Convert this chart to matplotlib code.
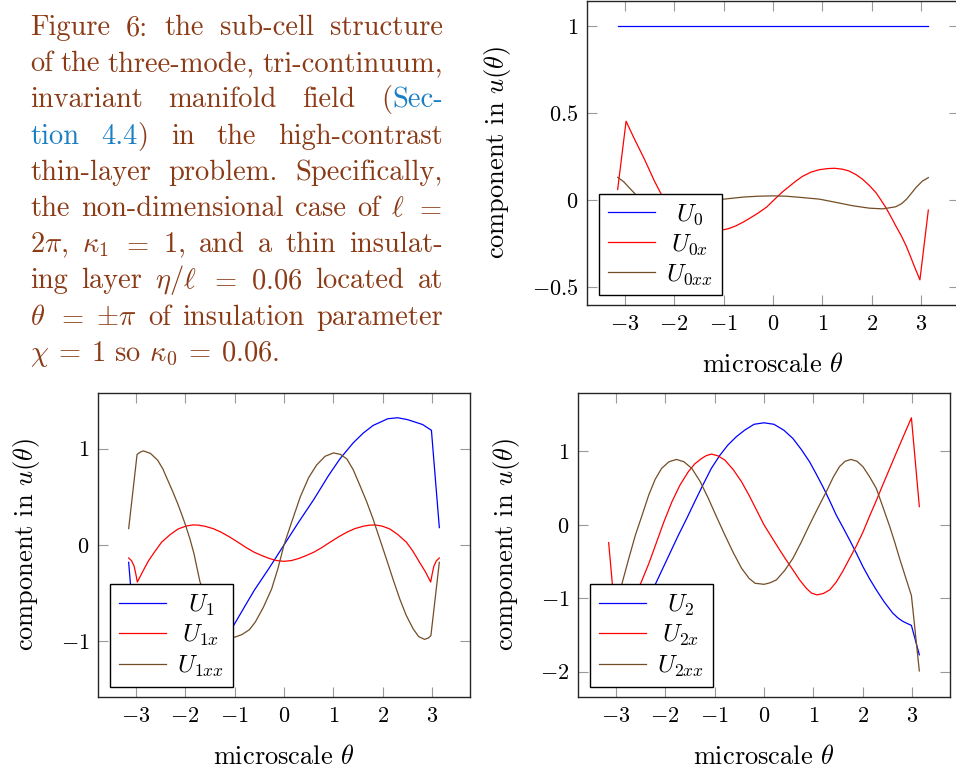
import matplotlib
matplotlib.use('Agg')
import matplotlib.pyplot as plt
from matplotlib.lines import Line2D
from matplotlib.transforms import IdentityTransform

plt.rcParams['font.family'] = 'cmr10'
plt.rcParams['mathtext.fontset'] = 'cm'
plt.rcParams['axes.unicode_minus'] = False
plt.rcParams['axes.formatter.use_mathtext'] = True

# ---------------- data ----------------
x_ticks = [-3, -2, -1, 0, 1, 2, 3]

# mode 0
th_U0 = [-3.14, 3.14]
U0 = [1.0, 1.0]
th_U0x = [-3.14, -2.97, -2.8, -2.6, -2.4, -2.2, -2.0, -1.7, -1.4, -1.2, -1.03, -0.9, -0.75, -0.6,
          -0.47, -0.3, -0.13, 0.08, 0.2, 0.34, 0.47, 0.6, 0.77, 0.94, 1.1, 1.24, 1.4, 1.54, 1.68,
          1.81, 1.95, 2.08, 2.18, 2.28, 2.38, 2.48, 2.59, 2.69, 2.77, 2.85, 2.97, 3.14]
U0x = [0.06, 0.453, 0.35, 0.235, 0.11, 0.0, -0.07, -0.13, -0.17, -0.18, -0.174, -0.166, -0.150,
       -0.128, -0.106, -0.076, -0.042, 0.016, 0.048, 0.08, 0.11, 0.136, 0.16, 0.174, 0.180, 0.182,
       0.177, 0.166, 0.145, 0.119, 0.082, 0.042, 0.0, -0.044, -0.095, -0.149, -0.205, -0.264,
       -0.32, -0.378, -0.461, -0.059]
th_U0xx = [-3.14, -3.02, -2.89, -2.79, -2.69, -2.48, -2.22, -1.95, -1.61, -1.28, -1.0, -0.6,
           -0.3, 0.0, 0.27, 0.6, 0.94, 1.28, 1.61, 1.95, 2.22, 2.48, 2.6, 2.7, 2.79, 2.89, 3.02, 3.14]
U0xx = [0.13, 0.105, 0.065, 0.035, 0.004, -0.038, -0.052, -0.048, -0.034, -0.015, 0.004, 0.016,
        0.021, 0.023, 0.021, 0.013, 0.004, -0.015, -0.034, -0.048, -0.052, -0.040, -0.022, 0.004,
        0.035, 0.071, 0.108, 0.128]
y_ticks_0 = [-0.5, 0, 0.5, 1]

# mode 1
th_U1 = [-3.14, -2.98, -2.8, -2.5, -2.3, -2.1, -1.8, -1.6, -1.4, -1.27, -1.13, -1.02, -0.75,
         -0.6, -0.45, -0.3, -0.15, 0.0, 0.15, 0.3, 0.45, 0.6, 0.75, 0.9, 1.13, 1.27, 1.4, 1.6, 1.8,
         2.1, 2.3, 2.5, 2.8, 2.98, 3.14]
U1 = [-0.18, -1.19, -1.25, -1.30, -1.32, -1.31, -1.24, -1.16, -1.06, -0.98, -0.9, -0.837, -0.60,
      -0.47, -0.355, -0.24, -0.12, 0.0, 0.12, 0.24, 0.355, 0.47, 0.595, 0.72, 0.893, 0.98, 1.06,
      1.16, 1.24, 1.31, 1.32, 1.30, 1.25, 1.19, 0.18]
th_U1x = [-3.14, -3.08, -3.03, -3.0, -2.965, -2.86, -2.74, -2.6, -2.475, -2.3, -2.14, -1.98, -1.84,
          -1.72, -1.6, -1.43, -1.27, -1.1, -0.93, -0.75, -0.6, -0.45, -0.3, -0.15, 0.0, 0.15, 0.3,
          0.45, 0.6, 0.75, 0.93, 1.1, 1.27, 1.43, 1.6, 1.72, 1.84, 1.98, 2.14, 2.3, 2.475, 2.6,
          2.74, 2.86, 2.965, 3.0, 3.03, 3.08, 3.14]
U1x = [-0.135, -0.165, -0.22, -0.29, -0.385, -0.28, -0.165, -0.06, 0.028, 0.108, 0.166, 0.196,
       0.208, 0.205, 0.194, 0.169, 0.132, 0.083, 0.028, -0.032, -0.076, -0.11, -0.14, -0.162,
       -0.17, -0.162, -0.14, -0.11, -0.076, -0.032, 0.028, 0.083, 0.132, 0.169, 0.194, 0.205,
       0.208, 0.196, 0.166, 0.108, 0.028, -0.06, -0.18, -0.28, -0.385, -0.29, -0.22, -0.165,
       -0.135]
th_U1xx = [-3.14, -2.97, -2.9, -2.84, -2.7, -2.555, -2.45, -2.35, -2.25, -2.15, -2.07, -1.99, -1.9,
           -1.82, -1.7, -1.55, -1.4, -1.25, -1.12, -1.0, -0.85, -0.7, -0.58, -0.42, -0.25, -0.12,
           0.0, 0.15, 0.33, 0.5, 0.66, 0.83, 1.0, 1.14, 1.27, 1.4, 1.535, 1.67, 1.8, 1.93, 2.07,
           2.2, 2.34, 2.47, 2.61, 2.72, 2.84, 2.92, 2.97, 3.14]
U1xx = [0.17, 0.94, 0.965, 0.976, 0.95, 0.88, 0.79, 0.672, 0.555, 0.43, 0.32, 0.205, 0.06, -0.09,
        -0.38, -0.6, -0.76, -0.88, -0.945, -0.958, -0.93, -0.88, -0.80, -0.65, -0.457, -0.24,
        0.0, 0.23, 0.5, 0.70, 0.83, 0.92, 0.955, 0.94, 0.893, 0.78, 0.617, 0.45, 0.27, 0.07,
        -0.145, -0.35, -0.56, -0.73, -0.87, -0.95, -0.98, -0.965, -0.94, -0.18]
y_ticks_1 = [-1, 0, 1]

# mode 2
th_U2 = [-3.14, -2.98, -2.81, -2.65, -2.5, -2.35, -2.19, -1.96, -1.73, -1.56, -1.40, -1.23,
         -1.065, -0.9, -0.73, -0.56, -0.39, -0.2, 0.0, 0.2, 0.4, 0.585, 0.75, 0.92, 1.05, 1.19,
         1.33, 1.46, 1.6, 1.73, 1.87, 2.0, 2.13, 2.27, 2.43, 2.6, 2.71, 2.81, 2.9, 2.98, 3.14]
U2 = [-1.77, -1.37, -1.316, -1.22, -1.1, -0.96, -0.80, -0.47, -0.14, 0.09, 0.316, 0.55, 0.769,
      0.94, 1.087, 1.2, 1.29, 1.37, 1.39, 1.37, 1.29, 1.176, 1.03, 0.86, 0.70, 0.52, 0.325,
      0.134, -0.04, -0.205, -0.39, -0.57, -0.73, -0.886, -1.05, -1.2, -1.27, -1.316, -1.345,
      -1.37, -1.77]
th_U2x = [-3.14, -2.98, -2.8, -2.67, -2.485, -2.33, -2.19, -2.03, -1.86, -1.7, -1.53, -1.4, -1.26,
          -1.16, -1.065, -0.93, -0.79, -0.62, -0.455, -0.3, -0.15, 0.0, 0.125, 0.25, 0.42, 0.585,
          0.72, 0.855, 0.96, 1.07, 1.2, 1.33, 1.46, 1.59, 1.72, 1.86, 2.0, 2.13, 2.27, 2.40, 2.53,
          2.67, 2.82, 2.98, 3.14]
U2x = [-0.242, -1.458, -1.21, -1.03, -0.786, -0.53, -0.27, 0.03, 0.316, 0.54, 0.724, 0.83, 0.905,
       0.945, 0.964, 0.94, 0.882, 0.75, 0.588, 0.40, 0.2, 0.0, -0.135, -0.27, -0.45, -0.614,
       -0.75, -0.864, -0.93, -0.954, -0.935, -0.886, -0.78, -0.636, -0.47, -0.296, -0.1, 0.112,
       0.33, 0.543, 0.75, 0.973, 1.21, 1.458, 0.248]
th_U2xx = [-3.14, -2.98, -2.865, -2.73, -2.6, -2.46, -2.33, -2.2, -2.07, -1.92, -1.77, -1.62,
           -1.46, -1.29, -1.125, -0.96, -0.79, -0.62, -0.455, -0.3, -0.18, 0.0, 0.12, 0.25, 0.42,
           0.585, 0.75, 0.92, 1.09, 1.26, 1.4, 1.525, 1.64, 1.76, 1.88, 2.0, 2.13, 2.27, 2.4, 2.54,
           2.64, 2.74, 2.86, 2.98, 3.14]
U2xx = [-1.99, -1.05, -0.786, -0.45, -0.14, 0.14, 0.406, 0.62, 0.769, 0.86, 0.891, 0.86, 0.769,
        0.59, 0.36, 0.11, -0.14, -0.38, -0.59, -0.73, -0.796, -0.81, -0.79, -0.75, -0.62, -0.456,
        -0.24, 0.0, 0.23, 0.452, 0.65, 0.792, 0.866, 0.891, 0.866, 0.792, 0.66, 0.496, 0.25,
        -0.02, -0.23, -0.456, -0.71, -0.963, -1.99]
y_ticks_2 = [-2, -1, 0, 1]

labels_0 = [r'$U_0$', r'$U_{0x}$', r'$U_{0xx}$']
labels_1 = [r'$U_1$', r'$U_{1x}$', r'$U_{1xx}$']
labels_2 = [r'$U_2$', r'$U_{2x}$', r'$U_{2xx}$']

x_label = r'microscale $\theta$'
y_label = r'component in $u(\theta)$'

# ---------------- styling ----------------
C_BLUE = '#0000ff'
C_RED = '#ff0000'
C_BROWN = '#734d26'
COLORS = [C_BLUE, C_RED, C_BROWN]
CAP = '#8b3a16'
LINK = '#1b7fc4'
LW = 0.9

W, H = 956, 774
fig = plt.figure(figsize=(W / 100, H / 100), dpi=100)


def axes_px(left, top, w, h):
    return fig.add_axes([left / W, 1 - (top + h) / H, w / W, h / H])


def fmt(v):
    return '$%g$' % v


def style(ax, ylim, yticks, ylab_x):
    ax.set_xlim(-3.76, 3.76)
    ax.set_ylim(*ylim)
    ax.set_xticks(x_ticks, [fmt(v) for v in x_ticks])
    ax.set_yticks(yticks, [fmt(v) for v in yticks])
    ax.tick_params(which='both', direction='in', top=True, right=True, length=7.5,
                   width=0.8, color='0.6', labelsize=16, labelcolor='black')
    ax.tick_params(axis='x', pad=7)
    ax.tick_params(axis='y', pad=6)
    for s in ax.spines.values():
        s.set_linewidth(1.0)
        s.set_color('0.15')
    ax.set_xlabel(x_label, fontsize=19)
    ax.set_ylabel(y_label, fontsize=19)
    ax.xaxis.set_label_coords(0.5, -0.158)
    ax.yaxis.set_label_coords(ylab_x, 0.5)


def add_legend(ax, labels):
    handles = [Line2D([], [], color=c, lw=LW) for c in COLORS]
    leg = ax.legend(handles, labels, loc='lower left', bbox_to_anchor=(0.032, 0.032),
                    borderaxespad=0, fontsize=18, frameon=True, fancybox=False,
                    edgecolor='black', framealpha=1, handlelength=1.9, handletextpad=0.45,
                    borderpad=0.35, labelspacing=0.2)
    leg.get_frame().set_linewidth(1.0)
    return leg


legends = []

ax0 = axes_px(587, 1, 372, 304)
ax0.plot(th_U0, U0, color=C_BLUE, lw=LW)
ax0.plot(th_U0x, U0x, color=C_RED, lw=LW)
ax0.plot(th_U0xx, U0xx, color=C_BROWN, lw=LW)
style(ax0, (-0.606, 1.146), y_ticks_0, -0.199)
legends.append(add_legend(ax0, labels_0))

ax1 = axes_px(98, 392.7, 372, 304.3)
ax1.plot(th_U1, U1, color=C_BLUE, lw=LW)
ax1.plot(th_U1x, U1x, color=C_RED, lw=LW)
ax1.plot(th_U1xx, U1xx, color=C_BROWN, lw=LW)
style(ax1, (-1.578, 1.58), y_ticks_1, -0.15)
legends.append(add_legend(ax1, labels_1))

ax2 = axes_px(578, 392.7, 372, 304.3)
ax2.plot(th_U2, U2, color=C_BLUE, lw=LW)
ax2.plot(th_U2x, U2x, color=C_RED, lw=LW)
ax2.plot(th_U2xx, U2xx, color=C_BROWN, lw=LW)
style(ax2, (-2.345, 1.80), y_ticks_2, -0.15)
legends.append(add_legend(ax2, labels_2))

fig.canvas.draw()
renderer = fig.canvas.get_renderer()

# centre legend entries in their column (pgfplots style)
for leg in legends:
    texts = leg.get_texts()
    ws = [t.get_window_extent(renderer).width for t in texts]
    m = max(ws)
    for t, w in zip(texts, ws):
        t.set_position(((m - w) / 2.0, 0))

# ---------------- caption (justified) ----------------
CAP_FS = 20.5
X0, X1 = 30, 443
B0, DB = 35, 36.2

caption_lines = [
    [[('Figure', CAP)], [('6:', CAP)], [('the', CAP)], [('sub-cell', CAP)], [('structure', CAP)]],
    [[('of', CAP)], [('the', CAP)], [('three-mode,', CAP)], [('tri-continuum,', CAP)]],
    [[('invariant', CAP)], [('manifold', CAP)], [('field', CAP)], [('(', CAP), ('Sec-', LINK)]],
    [[('tion', LINK)], [('4.4', LINK), (')', CAP)], [('in', CAP)], [('the', CAP)],
     [('high-contrast', CAP)]],
    [[('thin-layer', CAP)], [('problem.', CAP)], [('Specifically,', CAP)]],
    [[('the', CAP)], [('non-dimensional', CAP)], [('case', CAP)], [('of', CAP)],
     [(r'$\ell$', CAP)], [(r'$=$', CAP)]],
    [[(r'$2\pi$,', CAP)], [(r'$\kappa_1$', CAP)], [(r'$=$', CAP)], [(r'$1$,', CAP)],
     [('and', CAP)], [('a', CAP)], [('thin', CAP)], [('insulat-', CAP)]],
    [[('ing', CAP)], [('layer', CAP)], [(r'$\eta/\ell$', CAP)], [(r'$=$', CAP)],
     [(r'$0.06$', CAP)], [('located', CAP)], [('at', CAP)]],
    [[(r'$\theta$', CAP)], [(r'$=$', CAP)], [(r'$\pm\pi$', CAP)], [('of', CAP)],
     [('insulation', CAP)], [('parameter', CAP)]],
]
last_line = r'$\chi\:=\:1$ so $\kappa_0\:=\:0.06$.'

for i, words in enumerate(caption_lines):
    y = H - (B0 + i * DB)
    word_arts = []
    widths = []
    for word in words:
        arts = []
        wsum = 0.0
        for s, col in word:
            t = fig.text(0, y, s, color=col, fontsize=CAP_FS, ha='left', va='baseline',
                         transform=IdentityTransform())
            w = t.get_window_extent(renderer).width
            arts.append((t, w))
            wsum += w
        word_arts.append(arts)
        widths.append(wsum)
    gap = (X1 - X0 - sum(widths)) / (len(words) - 1)
    x = X0
    for arts, wsum in zip(word_arts, widths):
        xx = x
        for t, w in arts:
            t.set_position((xx, y))
            xx += w
        x += wsum + gap

fig.text(X0, H - (B0 + len(caption_lines) * DB), last_line, color=CAP, fontsize=CAP_FS,
         ha='left', va='baseline', transform=IdentityTransform())

fig.savefig('out.png', dpi=100)
